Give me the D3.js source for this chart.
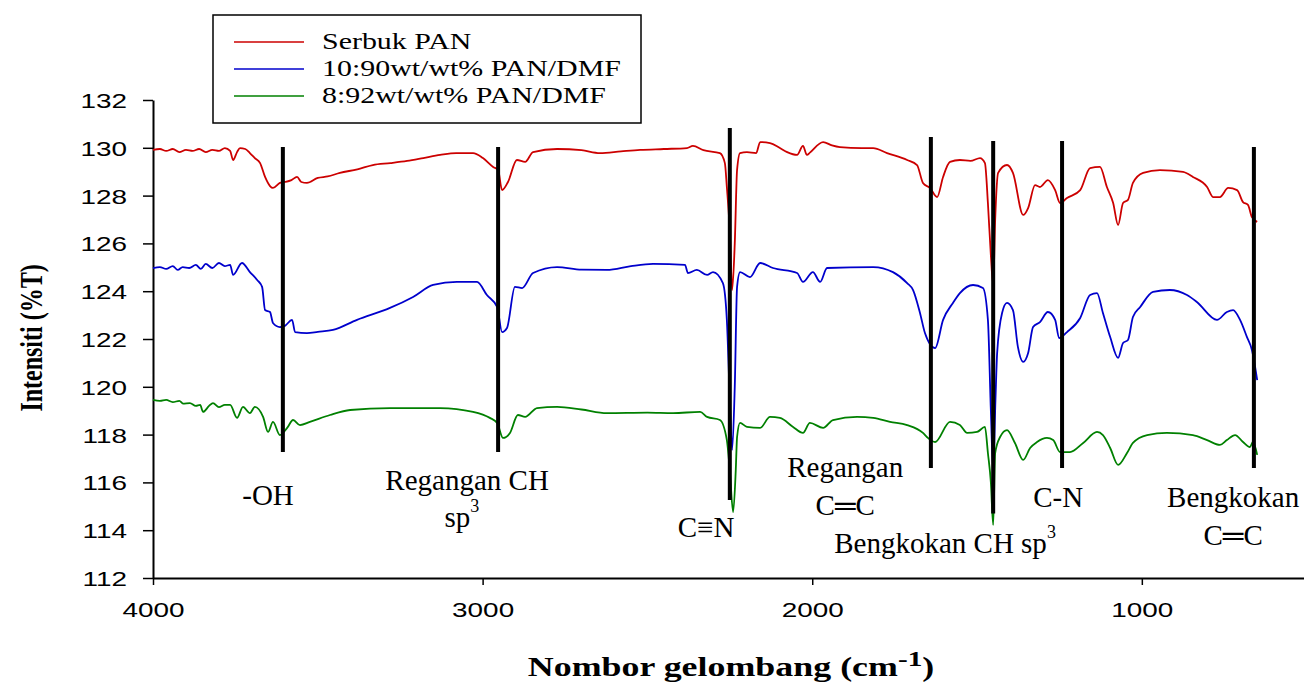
<!DOCTYPE html>
<html><head><meta charset="utf-8">
<script src="https://cdn.jsdelivr.net/npm/d3@7"></script>
<style>body{margin:0;background:#fff}</style>
</head><body><script>
// ---- data ----
const seriesNames = ["Serbuk PAN", "10:90wt/wt% PAN/DMF", "8:92wt/wt% PAN/DMF"];
const xTicks = [4000, 3000, 2000, 1000];
const yTicks = [112, 114, 116, 118, 120, 122, 124, 126, 128, 130, 132];

const serbukPAN = [[4000,129.91],[3979,129.95],[3960,129.87],[3940,129.95],[3920,129.82],[3900,129.91],[3880,129.87],[3860,129.95],[3840,129.82],[3820,129.91],[3800,129.87],[3782,129.99],[3766,129.87],[3757,129.49],[3745,129.82],[3736,129.99],[3720,129.95],[3706,129.78],[3691,129.57],[3675,129.36],[3660,128.78],[3645,128.40],[3636,128.32],[3615,128.53],[3600,128.57],[3580,128.65],[3563,128.78],[3550,128.57],[3533,128.53],[3500,128.74],[3470,128.80],[3433,128.95],[3380,129.10],[3333,129.28],[3280,129.36],[3229,129.45],[3180,129.57],[3129,129.70],[3080,129.78],[3029,129.78],[2999,129.57],[2968,129.20],[2953,129.07],[2941,128.23],[2923,128.57],[2896,129.49],[2871,129.41],[2847,129.82],[2774,129.95],[2700,129.90],[2644,129.78],[2580,129.85],[2522,129.91],[2450,129.95],[2380,129.99],[2362,130.08],[2330,129.90],[2280,129.78],[2265,129.36],[2259,128.36],[2250,126.5],[2243,124.05],[2235,126.0],[2228,129.07],[2219,129.78],[2198,129.82],[2170,129.78],[2158,130.24],[2128,130.20],[2098,129.99],[2076,129.82],[2046,129.70],[2028,130.08],[2016,129.70],[2007,129.80],[1967,130.24],[1940,130.10],[1916,130.03],[1850,129.99],[1815,129.99],[1773,129.78],[1712,129.49],[1682,129.28],[1664,128.53],[1643,128.32],[1621,127.94],[1603,128.78],[1582,129.41],[1552,129.49],[1520,129.45],[1491,129.57],[1476,129.36],[1467,127.69],[1458,125.5],[1451,124.26],[1445,126.98],[1436,128.95],[1409,129.28],[1391,128.95],[1360,127.19],[1345,127.48],[1324,128.44],[1309,128.36],[1285,128.65],[1263,128.23],[1248,127.69],[1227,127.90],[1187,128.23],[1157,129.15],[1127,129.20],[1106,128.36],[1087,127.69],[1072,126.77],[1057,127.69],[1042,127.82],[1027,128.53],[996,128.95],[945,129.07],[875,128.99],[845,128.78],[802,128.36],[784,127.94],[763,127.94],[738,128.32],[711,128.23],[693,127.73],[678,127.61],[666,127.10],[650,126.90]];

const pan1090 = [[4000,124.97],[3979,125.01],[3960,124.93],[3940,125.05],[3925,124.89],[3910,125.01],[3890,124.97],[3870,125.10],[3855,124.93],[3840,125.14],[3820,124.97],[3800,125.18],[3782,125.05],[3766,125.10],[3757,124.68],[3730,125.18],[3706,124.80],[3684,124.47],[3669,124.18],[3660,123.21],[3645,123.13],[3636,122.67],[3615,122.50],[3600,122.55],[3578,122.80],[3569,122.29],[3533,122.25],[3500,122.30],[3454,122.38],[3381,122.80],[3281,123.30],[3211,123.76],[3150,124.26],[3078,124.39],[3017,124.39],[2987,123.84],[2956,123.34],[2941,122.29],[2926,122.46],[2902,124.18],[2880,124.13],[2847,124.76],[2774,125.01],[2700,124.90],[2623,124.89],[2550,125.05],[2483,125.14],[2386,125.10],[2377,124.76],[2350,124.89],[2319,124.68],[2301,124.80],[2271,124.34],[2259,122.80],[2250,119.5],[2243,117.36],[2235,120.0],[2228,124.18],[2219,124.80],[2189,124.59],[2158,125.18],[2119,124.97],[2046,124.76],[2028,124.39],[1998,124.80],[1976,124.39],[1955,124.97],[1815,125.01],[1755,124.80],[1712,124.34],[1694,124.05],[1673,123.09],[1658,122.25],[1627,121.62],[1603,122.80],[1573,123.51],[1552,123.92],[1512,124.26],[1482,124.13],[1467,122.80],[1458,119.0],[1451,116.52],[1444,119.5],[1439,121.41],[1424,123.09],[1409,123.51],[1391,123.21],[1376,121.67],[1360,121.04],[1345,121.41],[1330,122.50],[1309,122.71],[1285,123.13],[1263,122.80],[1251,122.04],[1227,122.29],[1187,122.88],[1157,123.84],[1136,123.92],[1118,123.09],[1096,122.08],[1072,121.21],[1057,121.83],[1042,121.96],[1027,122.92],[1005,123.34],[966,123.97],[915,124.05],[863,123.84],[833,123.55],[772,122.80],[742,123.13],[723,123.21],[702,122.80],[681,122.08],[666,121.54],[650,120.28]];

const pan892 = [[4000,119.45],[3979,119.41],[3960,119.45],[3940,119.36],[3920,119.41],[3909,119.30],[3888,119.32],[3870,119.20],[3857,119.24],[3848,118.95],[3830,119.20],[3818,119.32],[3800,119.15],[3782,119.24],[3766,119.24],[3745,118.70],[3727,119.16],[3706,118.90],[3691,119.16],[3666,118.74],[3651,118.11],[3636,118.53],[3615,117.98],[3593,118.28],[3575,118.61],[3554,118.40],[3524,118.53],[3463,118.82],[3402,119.03],[3281,119.11],[3129,119.11],[3029,118.95],[2978,118.70],[2956,118.49],[2938,117.86],[2917,118.07],[2893,118.82],[2871,118.74],[2835,119.11],[2774,119.16],[2700,119.05],[2623,118.90],[2500,118.92],[2422,118.90],[2340,118.95],[2319,118.74],[2280,118.61],[2259,117.77],[2250,116.5],[2240,114.76],[2232,116.5],[2228,117.90],[2219,118.49],[2198,118.32],[2158,118.28],[2128,118.74],[2098,118.70],[2058,118.32],[2028,118.07],[2007,118.49],[1967,118.28],[1937,118.61],[1864,118.74],[1815,118.70],[1764,118.53],[1712,118.40],[1664,118.07],[1652,117.90],[1627,117.69],[1582,118.53],[1552,118.40],[1530,118.07],[1500,118.11],[1476,118.32],[1467,117.23],[1458,116.0],[1451,114.22],[1445,117.23],[1430,117.90],[1409,118.19],[1385,117.65],[1360,116.94],[1339,117.44],[1318,117.69],[1288,117.86],[1269,117.77],[1248,117.27],[1218,117.27],[1178,117.65],[1136,118.11],[1118,117.98],[1096,117.44],[1072,116.73],[1045,117.23],[1027,117.65],[984,117.98],[924,118.07],[845,117.98],[802,117.77],[763,117.57],[742,117.77],[717,117.98],[693,117.69],[672,117.48],[663,117.69],[650,117.15]];

// marker lines: [wavenumber, top %T, bottom %T]
const peakLines = [[3606,130.03,117.27],[2953,130.03,117.27],[2250,130.83,115.26],[1640,130.45,116.60],[1451,130.28,114.7],[1242,130.28,116.60],[660,130.03,116.60]];
// annotation labels: [wavenumber, %T of baseline, text, superscript]
const peakLabels = [
  [3651,115.05,"-OH",""],
  [3047,115.68,"Regangan CH",""],
  [3063,114.13,"sp","3"],
  [2322,113.72,"C\u2261N",""],
  [1900,116.23,"Regangan",""],
  [1900,114.64,"C\u2550C",""],
  [1597,113.05,"Bengkokan CH sp","3"],
  [1254,114.97,"C-N",""],
  [723,114.97,"Bengkokan",""],
  [723,113.38,"C\u2550C",""]
];

// ---- drawing ----
const W = 1304, H = 682, SX = 1.33;
const svg = d3.select("body").append("svg").attr("width", W).attr("height", H);
const x = d3.scaleLinear().domain([4000, 508]).range([153, 1304]);
const y = d3.scaleLinear().domain([112, 132]).range([578, 100]);
const colors = ["#cc0000", "#0000cc", "#008000"];
const series = [serbukPAN, pan1090, pan892];

// axes
const gx = svg.append("g").attr("transform", "translate(0,578)")
  .call(d3.axisBottom(x).tickValues(xTicks).tickSize(7).tickSizeOuter(0).tickPadding(17).tickFormat(d3.format("d")));
const gy = svg.append("g").attr("transform", "translate(153,0)")
  .call(d3.axisLeft(y).tickValues(yTicks).tickSize(10).tickSizeOuter(0).tickFormat(d3.format("d")));
[gx, gy].forEach(g => {
  g.select(".domain").attr("stroke", "#000").attr("stroke-width", 2);
  g.selectAll(".tick line").attr("stroke", "#000").attr("stroke-width", 1.5);
  g.selectAll(".tick text").attr("fill", "#000")
    .style("font-family", "'Liberation Sans', Arial, sans-serif").style("font-size", "21px");
});
gx.selectAll(".tick text").attr("transform", `scale(${SX},1)`);
gy.selectAll(".tick text").attr("x", -26 / SX).attr("dy", "0.36em").attr("transform", `scale(${SX},1)`);

// curves
const line = d3.line().x(d => x(d[0])).y(d => y(d[1])).curve(d3.curveMonotoneX);
series.forEach((s, i) => {
  svg.append("path").datum(s).attr("d", line)
    .attr("fill", "none").attr("stroke", colors[i]).attr("stroke-width", 1.8).attr("stroke-linejoin", "round");
});

// marker lines
svg.append("g").selectAll("line").data(peakLines).join("line")
  .attr("x1", d => x(d[0])).attr("x2", d => x(d[0]))
  .attr("y1", d => y(d[1])).attr("y2", d => y(d[2]))
  .attr("stroke", "#000").attr("stroke-width", 4);

// annotation labels
const lab = svg.append("g").style("font-family", "'Liberation Serif', 'Times New Roman', serif").style("font-size", "29px");
peakLabels.forEach(d => {
  const t = lab.append("text").attr("x", x(d[0])).attr("y", y(d[1])).attr("text-anchor", "middle").attr("fill", "#000");
  t.append("tspan").text(d[2]);
  if (d[3]) t.append("tspan").attr("dy", -15).style("font-size", "18px").text(d[3]);
});

// legend
const lg = svg.append("g");
lg.append("rect").attr("x", 213).attr("y", 15).attr("width", 428).attr("height", 108)
  .attr("fill", "#fff").attr("stroke", "#000").attr("stroke-width", 1.5);
seriesNames.forEach((n, i) => {
  const yy = 42 + i * 27;
  lg.append("line").attr("x1", 234).attr("x2", 304).attr("y1", yy).attr("y2", yy)
    .attr("stroke", colors[i]).attr("stroke-width", 1.5);
  lg.append("text").attr("transform", `translate(322,${yy + 7}) scale(${SX},1)`)
    .style("font-family", "'Liberation Serif', 'Times New Roman', serif").style("font-size", "22.5px")
    .attr("fill", "#000").text(n);
});

// axis titles
svg.append("text").attr("transform", `translate(42,338) scale(${SX},1) rotate(-90)`)
  .attr("text-anchor", "middle").style("font-family", "'Liberation Serif', 'Times New Roman', serif")
  .style("font-size", "24px").style("font-weight", "bold").text("Intensiti (%T)");
const xt = svg.append("text").attr("transform", `translate(731,676) scale(${SX},1)`)
  .attr("text-anchor", "middle").style("font-family", "'Liberation Serif', 'Times New Roman', serif")
  .style("font-size", "27px").style("font-weight", "bold");
xt.append("tspan").text("Nombor gelombang (cm");
xt.append("tspan").attr("dy", -10).style("font-size", "22px").text("-1");
xt.append("tspan").attr("dy", 10).text(")");
</script></body></html>
